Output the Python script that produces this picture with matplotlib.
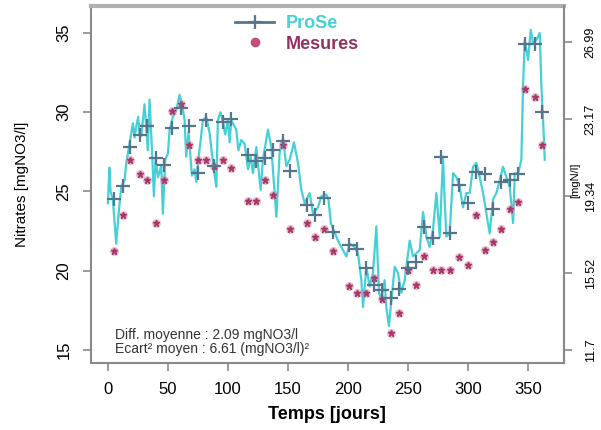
import matplotlib.pyplot as plt
from matplotlib.lines import Line2D

plt.rcParams['font.family'] = ['Liberation Sans', 'DejaVu Sans']

# ProSe simulated nitrate
prose_jours = [0.3, 1.5, 2.5, 4.4, 7.2, 9.2, 11.4, 14.2, 15.6, 18.3, 21.1, 22.5, 23.9, 25.5,
               26.7, 28.1, 30.8, 32.2, 33.5, 35, 36.9, 38.6, 40, 42, 44.7, 46.1, 48, 50.3,
               51.7, 54.4, 57.2, 60, 62, 64.2, 65.5, 67.5, 70.3, 72.5, 74, 75.3, 77.5,
               79.4, 82.2, 85, 87.8, 89.2, 90.6, 91.9, 94, 96.1, 98, 100.3, 101.7, 103,
               107.2, 109, 111.4, 114.2, 117, 119.2, 121.1, 123.9, 127.5, 129.4, 133.6,
               136.4, 140.6, 143.3, 146.1, 148.9, 151.7, 155.3, 158.6, 161.4, 164.2,
               168.3, 171.1, 175.3, 178.1, 182.2, 184, 186, 189.2, 191.9, 194.7, 198.9,
               201.7, 205.8, 208.6, 211.4, 212.8, 215.6, 218.3, 221.1, 223.9, 226.1, 228,
               230.8, 232.2, 234.4, 236.4, 239.2, 241.9, 244.7, 247.5, 251.7, 254.4,
               257.2, 260, 262.8, 265.6, 268.3, 271.1, 273.9, 276.7, 279.4, 280.8, 282.2,
               285, 287.8, 290.6, 293.3, 296.1, 298.9, 301.7, 304.4, 307.2, 310, 312.8,
               315.6, 318.3, 321.1, 323.9, 326.7, 329.4, 332.2, 335, 337.8, 339.2, 342,
               344.7, 346.1, 347.5, 350.3, 352.5, 354.4, 357.2, 360, 361.4, 362.8, 364.2]
prose_vals = [24.25, 26.5, 25.0, 24.5, 21.7, 23.6, 25.3, 25.7, 26.8, 28.0, 29.3, 28.4, 29.1,
              29.7, 28.6, 28.5, 30.5, 29.1, 27.6, 30.8, 27.8, 24.7, 27.0, 25.9, 26.6,
              23.6, 27.0, 27.4, 28.9, 29.7, 30.1, 31.1, 30.5, 29.5, 27.2, 28.7, 26.0,
              26.4, 25.6, 26.8, 28.2, 29.5, 29.7, 28.7, 26.8, 26.0, 25.3, 29.5, 30.0,
              29.4, 28.6, 29.5, 28.1, 29.5, 28.9, 27.6, 28.25, 28.0, 26.4, 27.2, 26.15,
              27.8, 25.1, 27.0, 28.9, 27.8, 23.4, 27.4, 28.35, 26.6, 27.0, 28.1, 26.8,
              25.1, 24.25, 24.9, 23.6, 24.0, 24.7, 24.8, 24.5, 23.0, 22.4, 21.9, 21.5,
              20.9, 21.7, 21.5, 21.1, 19.4, 17.7, 20.25, 19.0, 19.85, 22.8, 18.6, 18.15,
              19.4, 17.7, 16.5, 18.15, 20.25, 19.85, 18.6, 19.4, 21.9, 20.9, 21.1, 21.3,
              23.7, 22.15, 21.5, 22.6, 24.9, 22.15, 27.2, 24.5, 22.15, 22.35, 26.15,
              25.9, 25.3, 24.0, 24.9, 24.9, 26.55, 26.8, 25.9, 24.9, 23.6, 22.35, 24.5,
              24.9, 25.7, 26.55, 25.9, 25.3, 23.0, 26.15, 26.15, 27.0, 31.6, 34.55,
              33.3, 35.2, 34.35, 34.55, 35.0, 31.6, 29.5, 27.0]

# measurement days, measured values and ProSe values on those days
mes_jours = [5, 13, 19, 27, 33, 40, 47, 54, 61, 68, 75, 82, 89, 96, 103, 117, 124, 131,
             138, 146, 152, 166, 173, 180, 188, 201, 208, 215, 222, 229, 236, 243, 250,
             257, 264, 271, 278, 285, 293, 300, 307, 314, 321, 328, 335, 342, 348, 356, 362]
mes_vals = [21.25, 23.5, 27.0, 26.1, 25.7, 23.0, 25.7, 30.05, 30.5, 27.9, 27.0, 27.0, 26.6,
            27.0, 26.5, 24.4, 24.4, 25.7, 24.8, 27.9, 22.6, 23.0, 22.15, 22.6, 21.25,
            19.05, 18.6, 18.6, 19.55, 18.2, 16.05, 17.3, 20.05, 19.1, 20.9, 20.05, 20.05,
            20.05, 20.85, 20.35, 23.5, 21.3, 21.8, 22.6, 23.9, 24.35, 31.45, 30.95, 27.9]
prose_mes = [24.55, 25.35, 27.8, 28.55, 29.1, 27.1, 26.7, 29.0, 30.25, 29.1, 26.15, 29.5,
             26.6, 29.4, 29.55, 27.3, 26.9, 27.1, 27.6, 28.2, 26.3, 24.15, 23.5, 24.6,
             22.45, 21.65, 21.35, 20.2, 19.1, 18.75, 18.3, 18.85, 20.2, 20.55, 22.75,
             22.05, 27.15, 22.4, 25.4, 24.3, 26.25, 26.1, 23.9, 25.6, 25.7, 26.1, 34.3,
             34.3, 30.0]

x_ticks = [0, 50, 100, 150, 200, 250, 300, 350]
y_ticks = [15, 20, 25, 30, 35]
mgn_ticks = [11.7, 15.52, 19.34, 23.17, 26.99]
mgn_labels = ['11.7', '15.52', '19.34', '23.17', '26.99']

stats_txt = ['Diff. moyenne : 2.09 mgNO3/l', 'Ecart\u00b2 moyen : 6.61 (mgNO3/l)\u00b2']

cyan = '#45d0d8'
plus_col = '#56758c'
pink = '#a8386a'
grey = '#8a8a8a'

fig = plt.figure(figsize=(6.01, 4.30), dpi=100)
ax = fig.add_axes([0.151, 0.156, 0.787, 0.830])

ax.plot(prose_jours, prose_vals, color=cyan, lw=1.6, zorder=2)
ax.plot(mes_jours, mes_vals, 'o', ms=6.5, color='#d58aa8', alpha=0.55, mec='none', zorder=3)
ax.plot(mes_jours, mes_vals, '*', ms=4.5, color=pink, mec=pink, zorder=4)
ax.plot(mes_jours, prose_mes, '+', ms=10, mew=1.6, color=plus_col, zorder=5)

ax.set_xlim(-14, 380)
ax.set_ylim(14.18, 36.7)
ax.set_xticks(x_ticks)
ax.set_yticks(y_ticks)
ax.tick_params(direction='out', length=6, width=1.2, color=grey, labelsize=12, pad=8)
for lab in ax.get_yticklabels():
    lab.set_rotation(90)
    lab.set_va('center')

for side in ['left', 'bottom', 'right']:
    ax.spines[side].set_color(grey)
    ax.spines[side].set_linewidth(1.5)
ax.spines['top'].set_color('#b0b0b0')
ax.spines['top'].set_linewidth(3)

ax.set_xlabel('Temps [jours]', fontsize=13, fontweight='bold', labelpad=6)
ax.set_ylabel('Nitrates [mgNO3/l]', fontsize=11, labelpad=20)

# right axis in mgN/l
ax2 = ax.twinx()
lo, hi = ax.get_ylim()
ax2.set_ylim(11.7 + (lo - 15) / 1.271, 11.7 + (hi - 15) / 1.271)
ax2.set_yticks(mgn_ticks)
ax2.set_yticklabels(mgn_labels, rotation=90, va='center')
ax2.tick_params(direction='out', length=6, width=1.2, color=grey, labelsize=9, pad=9)
for side in ['left', 'bottom', 'top']:
    ax2.spines[side].set_visible(False)
ax2.spines['right'].set_color(grey)
ax2.spines['right'].set_linewidth(1.5)
fig.text(575 / 601, 1 - 180 / 430, '[mgN/l]', rotation=90, fontsize=8,
         ha='center', va='center')

ax.text(6, 15.95, stats_txt[0], fontsize=10, va='center', color='#333333')
ax.text(6, 15.06, stats_txt[1], fontsize=10, va='center', color='#333333')

handles = [Line2D([], [], color=plus_col, lw=2, marker='+', ms=10, mew=1.6),
           Line2D([], [], ls='none', marker='o', ms=7, color='#c0507f', mec='none')]
leg = ax.legend(handles, ['ProSe', 'Mesures'], loc='upper left',
                bbox_to_anchor=(0.27, 1.02), frameon=False,
                handlelength=2.2, handletextpad=0.6, labelspacing=0.2,
                labelcolor=[cyan, '#93305f'], prop={'weight': 'bold', 'size': 13})

fig.savefig('out.png', dpi=100)
